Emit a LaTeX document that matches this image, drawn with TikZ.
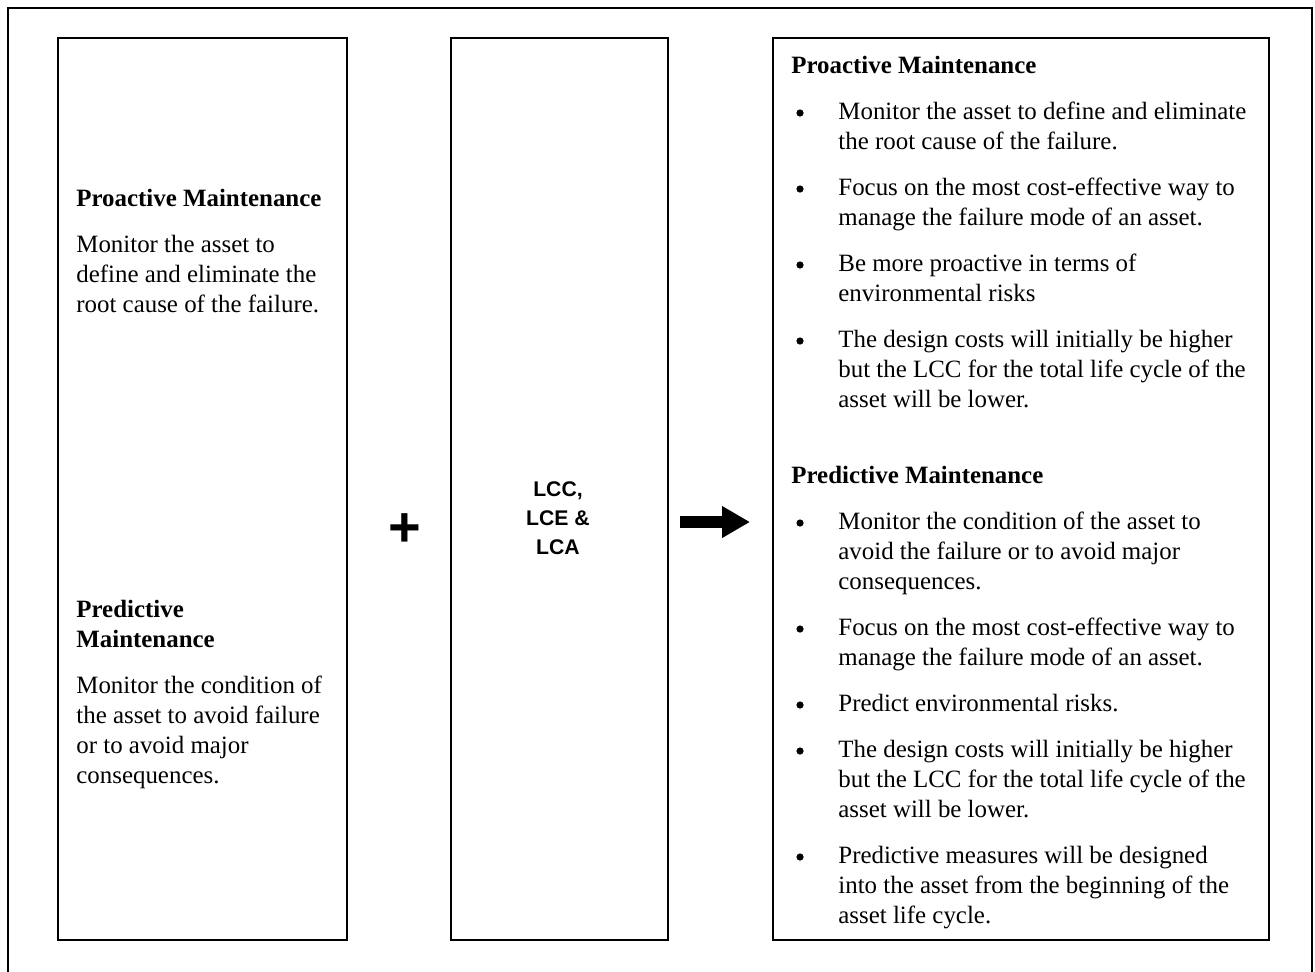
\documentclass[tikz,border=0pt]{standalone}
\usepackage{fontspec}
\setmainfont{Liberation Serif}
\newfontfamily\arialfont{Liberation Sans}
\usetikzlibrary{arrows.meta}
\begin{document}
\begin{tikzpicture}[x=0.5pt,y=-0.5pt,
  panel/.style={draw, line width=1pt, anchor=north west, inner sep=0pt},
  txt/.style={anchor=north west, inner sep=0pt, align=left, font=\fontsize{12.45}{15}\selectfont},
  hd/.style={txt, font=\fontsize{12.45}{15}\selectfont\bfseries},
  bul/.style={circle, fill=black, inner sep=0pt, minimum size=3.6pt},
  mid/.style={align=center, inner sep=0pt, font=\arialfont\bfseries\fontsize{10.6}{14.5}\selectfont},
  bigarrow/.style={line width=6pt, -{Triangle[length=14pt,width=15pt]}}]
\useasboundingbox (0,0) rectangle (1315,971);
% outer frame (open at the bottom edge of the picture)
\draw[line width=1pt] (8,990) -- (8,8) -- (1312,8) -- (1312,990);
% panels
\node[panel, minimum width=144.5pt, minimum height=451pt] (L) at (57,37) {};
\node[panel, minimum width=108.5pt, minimum height=451pt] (M) at (450,37) {};
\node[panel, minimum width=248pt, minimum height=451pt] (R) at (772,37) {};
% left panel text
\node[hd] (l1) at (76,185) {\strut Proactive Maintenance};
\node[txt] (l2) at (76,231) {\strut Monitor the asset to\\define and eliminate the\\root cause of the failure.};
\node[hd] (l3) at (76,596) {\strut Predictive\\Maintenance};
\node[txt] (l4) at (76,672) {\strut Monitor the condition of\\the asset to avoid failure\\or to avoid major\\consequences.};
% plus, middle text, arrow
\node[font=\arialfont\bfseries\fontsize{28}{28}\selectfont, inner sep=0pt] (plus) at (405,530) {+};
\node[mid] (lcc) at (558,518) {LCC,\\LCE \&\\LCA};
\coordinate (a1) at (680,522);
\coordinate (a2) at (750,522);
\draw[bigarrow] (a1) -- (a2);
% right panel text
\node[hd] (r0) at (791,52) {\strut Proactive Maintenance};
\node[bul] (b1) at (800,113) {};
\node[txt] (r1) at (838,98) {\strut Monitor the asset to define and eliminate\\the root cause of the failure.};
\node[bul] (b2) at (800,189) {};
\node[txt] (r2) at (838,174) {\strut Focus on the most cost-effective way to\\manage the failure mode of an asset.};
\node[bul] (b3) at (800,265) {};
\node[txt] (r3) at (838,250) {\strut Be more proactive in terms of\\environmental risks};
\node[bul] (b4) at (800,341) {};
\node[txt] (r4) at (838,326) {\strut The design costs will initially be higher\\but the LCC for the total life cycle of the\\asset will be lower.};
\node[hd] (r5) at (791,462) {\strut Predictive Maintenance};
\node[bul] (b6) at (800,523) {};
\node[txt] (r6) at (838,508) {\strut Monitor the condition of the asset to\\avoid the failure or to avoid major\\consequences.};
\node[bul] (b7) at (800,629) {};
\node[txt] (r7) at (838,614) {\strut Focus on the most cost-effective way to\\manage the failure mode of an asset.};
\node[bul] (b8) at (800,705) {};
\node[txt] (r8) at (838,690) {\strut Predict environmental risks.};
\node[bul] (b9) at (800,751) {};
\node[txt] (r9) at (838,736) {\strut The design costs will initially be higher\\but the LCC for the total life cycle of the\\asset will be lower.};
\node[bul] (b10) at (800,857) {};
\node[txt] (r10) at (838,842) {\strut Predictive measures will be designed\\into the asset from the beginning of the\\asset life cycle.};
\end{tikzpicture}
\end{document}
